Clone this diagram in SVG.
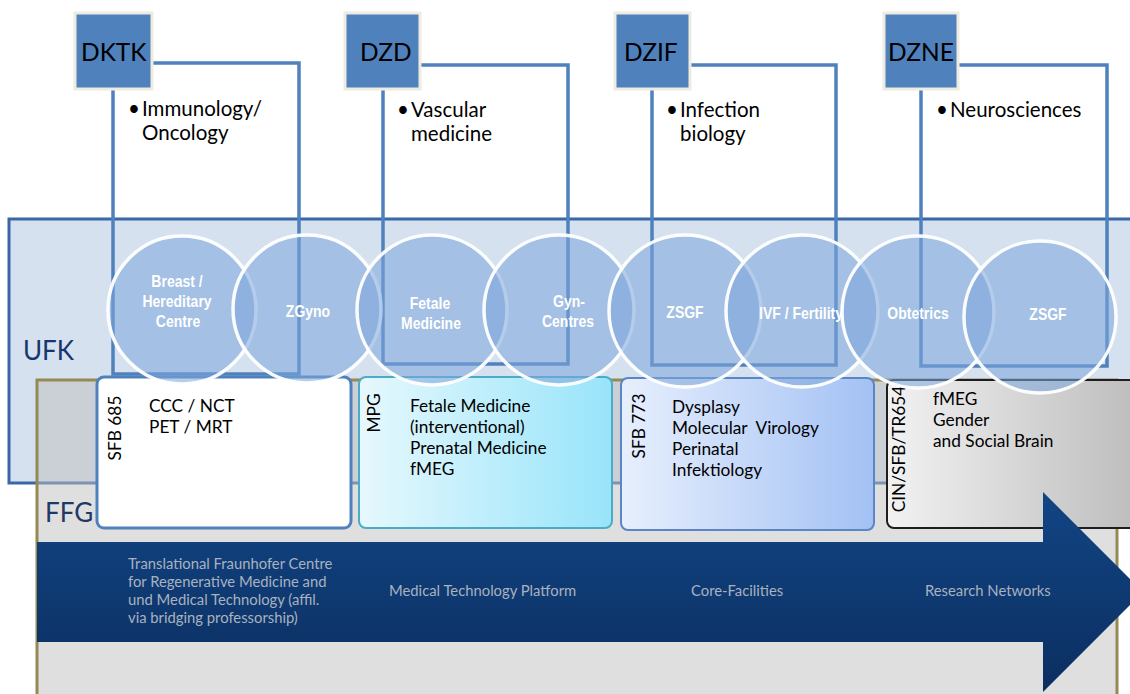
<svg xmlns="http://www.w3.org/2000/svg" width="1130" height="694" viewBox="0 0 1130 694">
<defs>
<linearGradient id="gMPG" x1="0" y1="0" x2="1" y2="0"><stop offset="0" stop-color="#e6f8fd"/><stop offset="1" stop-color="#98e4fa"/></linearGradient>
<linearGradient id="gSFB" x1="0" y1="0" x2="1" y2="0"><stop offset="0" stop-color="#e7effd"/><stop offset="1" stop-color="#a3c1f4"/></linearGradient>
<linearGradient id="gCIN" x1="0" y1="0" x2="1" y2="0"><stop offset="0" stop-color="#f2f2f2"/><stop offset="1" stop-color="#b9b9b9"/></linearGradient>
<linearGradient id="gArrow" gradientUnits="userSpaceOnUse" x1="0" y1="492" x2="0" y2="692"><stop offset="0" stop-color="#124584"/><stop offset="1" stop-color="#0b2e60"/></linearGradient>
</defs>
<style>
.t{font-family:Lato,"Liberation Sans",sans-serif;fill:#000}
.big{font-size:24.5px}
.top{font-size:20.5px}
.body{font-size:17.3px}
.lbl{font-size:26px}
.arr{font-family:Lato,"Liberation Sans",sans-serif;font-size:14.8px;fill:#a9b2bf}
.circ{fill:#7da6db;fill-opacity:0.56;stroke:#fff;stroke-width:3.5;stroke-opacity:0.95}
.ct{font-family:"Liberation Sans",Arial,sans-serif;font-weight:bold;font-size:14px;fill:#fff;text-anchor:middle}
.ln{fill:none;stroke:#4f81bd;stroke-width:3.5}
.hb{fill:#4f81bd;stroke:#eeece1;stroke-width:3}
</style>
<rect width="1130" height="694" fill="#fff"/>
<g id="UFK">
<rect x="9" y="219" width="1140" height="264" fill="#d6e1ef" stroke="#3b67a6" stroke-width="3"/>
<text class="t lbl" x="23" y="360" style="fill:#17366e">UFK</text>
</g>
<g id="FFG">
<rect x="37" y="380" width="1080" height="340" fill="#bfbfbf" fill-opacity="0.5" stroke="#948a54" stroke-width="3"/>
<text class="t lbl" x="45" y="522" style="fill:#1f3864">FFG</text>
</g>
<g id="connectors">
<rect class="ln" x="113" y="63" width="186" height="311"/>
<rect class="ln" x="383" y="65" width="185" height="299"/>
<rect class="ln" x="652" y="65" width="184" height="300"/>
<rect class="ln" x="921" y="65" width="186" height="301"/>
</g>
<g id="DKTK">
<rect class="hb" x="75" y="13" width="77" height="76"/>
<text class="t big" x="81" y="61">DKTK</text>
<text class="t top" x="128" y="116">•</text>
<text class="t top" x="142" y="116">Immunology/</text>
<text class="t top" x="142" y="140">Oncology</text>
</g>
<g id="DZD">
<rect class="hb" x="345" y="13" width="75" height="76"/>
<text class="t big" x="360" y="61">DZD</text>
<text class="t top" x="397" y="116.5">•</text>
<text class="t top" x="411" y="116.5">Vascular</text>
<text class="t top" x="411" y="140.5">medicine</text>
</g>
<g id="DZIF">
<rect class="hb" x="615" y="13" width="75" height="76"/>
<text class="t big" x="624" y="61">DZIF</text>
<text class="t top" x="666" y="117">•</text>
<text class="t top" x="680" y="117">Infection</text>
<text class="t top" x="680" y="141">biology</text>
</g>
<g id="DZNE">
<rect class="hb" x="884" y="13" width="74" height="76"/>
<text class="t big" x="888" y="61">DZNE</text>
<text class="t top" x="936" y="117">•</text>
<text class="t top" x="950" y="117">Neurosciences</text>
</g>
<g id="SFB685">
<rect x="97" y="377" width="254" height="151" rx="7" fill="#fff" stroke="#4f81bd" stroke-width="3"/>
<text class="t body" transform="translate(121,428) rotate(-90)" text-anchor="middle">SFB 685</text>
<text class="t body" x="149" y="412">CCC / NCT</text>
<text class="t body" x="149" y="433">PET / MRT</text>
</g>
<g id="MPG">
<rect x="359" y="377" width="253" height="151" rx="7" fill="url(#gMPG)" stroke="#4bacc6" stroke-width="2"/>
<text class="t body" transform="translate(380,413) rotate(-90)" text-anchor="middle">MPG</text>
<text class="t body" x="410" y="412">Fetale Medicine</text>
<text class="t body" x="410" y="433">(interventional)</text>
<text class="t body" x="410" y="454">Prenatal Medicine</text>
<text class="t body" x="410" y="475">fMEG</text>
</g>
<g id="SFB773">
<rect x="621" y="378" width="253" height="152" rx="7" fill="url(#gSFB)" stroke="#5b86c5" stroke-width="2"/>
<text class="t body" transform="translate(645,426) rotate(-90)" text-anchor="middle">SFB 773</text>
<text class="t body" x="672" y="413">Dysplasy</text>
<text class="t body" x="672" y="434" xml:space="preserve">Molecular  Virology</text>
<text class="t body" x="672" y="455">Perinatal</text>
<text class="t body" x="672" y="476">Infektiology</text>
</g>
<g id="CIN">
<rect x="887" y="380" width="270" height="148" rx="7" fill="url(#gCIN)" stroke="#1e1e1e" stroke-width="2"/>
<text class="t body" transform="translate(905,449) rotate(-90)" text-anchor="middle">CIN/SFB/TR654</text>
<text class="t body" x="933" y="405">fMEG</text>
<text class="t body" x="933" y="426">Gender</text>
<text class="t body" x="933" y="447">and Social Brain</text>
</g>
<g id="arrow">
<path d="M37,542 H1043 V492 L1143,592 L1043,692 V642 H37 Z" fill="url(#gArrow)"/>
<text class="arr" x="128" y="569">Translational Fraunhofer Centre</text>
<text class="arr" x="128" y="587">for Regenerative Medicine and</text>
<text class="arr" x="128" y="605">und Medical Technology (affil.</text>
<text class="arr" x="128" y="623">via bridging professorship)</text>
<text class="arr" x="389" y="596">Medical Technology Platform</text>
<text class="arr" x="691" y="596">Core-Facilities</text>
<text class="arr" x="925" y="596">Research Networks</text>
</g>
<g id="circles">
<circle class="circ" cx="182" cy="310" r="74"/>
<circle class="circ" cx="307" cy="309" r="74"/>
<circle class="circ" cx="432" cy="310" r="75"/>
<circle class="circ" cx="559" cy="310" r="75"/>
<circle class="circ" cx="685" cy="311" r="76"/>
<circle class="circ" cx="802" cy="311" r="76"/>
<circle class="circ" cx="918" cy="312" r="76"/>
<circle class="circ" cx="1040" cy="317" r="76"/>
</g>
<g id="circle-labels">
<text class="ct" transform="translate(177,287) scale(1,1.15)">Breast /</text>
<text class="ct" transform="translate(177,307) scale(1,1.15)">Hereditary</text>
<text class="ct" transform="translate(178,327) scale(1,1.15)">Centre</text>
<text class="ct" transform="translate(308,317) scale(1,1.15)">ZGyno</text>
<text class="ct" transform="translate(430,309) scale(1,1.15)">Fetale</text>
<text class="ct" transform="translate(431,329) scale(1,1.15)">Medicine</text>
<text class="ct" transform="translate(569,307) scale(1,1.15)">Gyn-</text>
<text class="ct" transform="translate(568,327) scale(1,1.15)">Centres</text>
<text class="ct" transform="translate(685,318) scale(1,1.15)">ZSGF</text>
<text class="ct" transform="translate(801,319) scale(1,1.15)">IVF / Fertility</text>
<text class="ct" transform="translate(918,319) scale(1,1.15)">Obtetrics</text>
<text class="ct" transform="translate(1048,320) scale(1,1.15)">ZSGF</text>
</g>
</svg>
